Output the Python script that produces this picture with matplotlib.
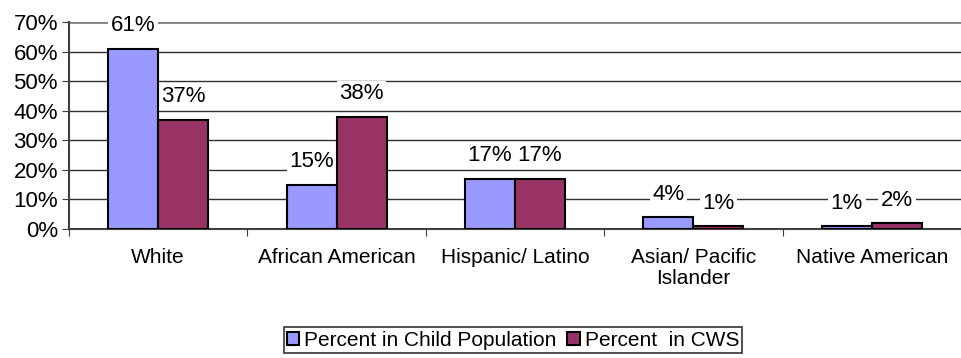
import matplotlib.pyplot as plt
import numpy as np
from matplotlib.patches import Patch

categories = ['White', 'African American', 'Hispanic/ Latino',
              'Asian/ Pacific\nIslander', 'Native American']
child_pop = [61, 15, 17, 4, 1]
cws = [37, 38, 17, 1, 2]
series_names = ['Percent in Child Population', 'Percent  in CWS']
colors = ['#9999FF', '#993366']

plt.rcParams['font.family'] = ['Liberation Sans', 'DejaVu Sans']
plt.rcParams['font.size'] = 15

fig = plt.figure(figsize=(9.61, 3.58), dpi=100)
ax = fig.add_axes([69 / 961, 1 - 229 / 358, 1 - 69 / 961, (229 - 22) / 358])

x = np.arange(len(categories))
w = 0.28
b1 = ax.bar(x - w / 2, child_pop, w, color=colors[0], edgecolor='black', linewidth=1.5, zorder=3)
b2 = ax.bar(x + w / 2, cws, w, color=colors[1], edgecolor='black', linewidth=1.5, zorder=3)

# value labels sit under the bars so their white boxes only hide gridlines
for bars in (b1, b2):
    for r in bars:
        h = r.get_height()
        ax.annotate('%d%%' % h, (r.get_x() + r.get_width() / 2, h),
                    xytext=(0, 16.5), textcoords='offset points',
                    ha='center', va='center', zorder=2, fontsize=16,
                    bbox=dict(facecolor='white', edgecolor='none', pad=2))

ax.set_ylim(0, 70)
ax.set_xlim(-0.5, 4.5 - 3 / 179)
ax.set_yticks(np.arange(0, 71, 10))
ax.set_yticklabels(['%d%%' % v for v in range(0, 71, 10)], fontsize=16)
for v in range(10, 70, 10):
    ax.axhline(v, color='#303030', linewidth=1, zorder=1)
ax.axhline(70, color='#808080', linewidth=2, zorder=1)

ax.set_xticks(np.arange(-0.5, 4.6, 1.0))
ax.set_xticklabels([])
ax.set_xticks(x, minor=True)
ax.set_xticklabels(categories, minor=True, linespacing=1.1)
ax.tick_params(axis='x', which='minor', length=0, pad=14)
ax.tick_params(axis='x', which='major', length=5, color='#404040', direction='out')
ax.tick_params(axis='y', length=5, color='#404040', direction='out', pad=3)

for s in ['top', 'right']:
    ax.spines[s].set_visible(False)
ax.spines['left'].set_color('#404040')
ax.spines['bottom'].set_color('#404040')
ax.spines['left'].set_linewidth(1.5)
ax.spines['bottom'].set_linewidth(1.5)

handles = [Patch(facecolor=c, edgecolor='black', linewidth=1.5) for c in colors]
leg = fig.legend(handles, series_names, loc='center', bbox_to_anchor=(513 / 961, 1 - 340 / 358),
                 ncol=2, frameon=True, fancybox=False, edgecolor='black',
                 handlelength=0.6, handleheight=0.6, handletextpad=0.25,
                 columnspacing=0.5, borderpad=0.15, borderaxespad=0)
leg.get_frame().set_linewidth(1.2)

fig.savefig('out.png', dpi=100)
